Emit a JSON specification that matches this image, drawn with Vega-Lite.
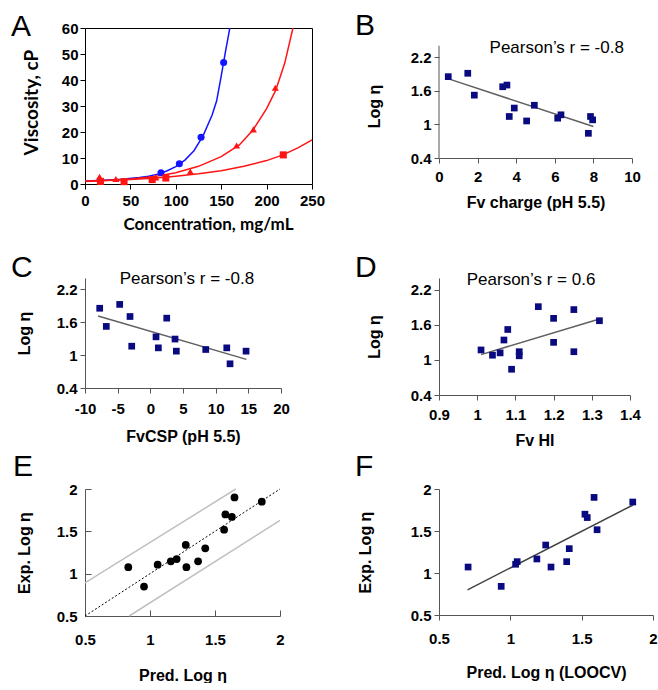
{
  "$schema": "https://vega.github.io/schema/vega-lite/v6.json",
  "padding": {"left": 10, "top": 11, "right": 0, "bottom": 0},
  "background": "white",
  "config": {
    "view": {"stroke": null},
    "axis": {
      "grid": false,
      "labelFont": "Liberation Sans",
      "labelFontWeight": "bold",
      "labelFontSize": 15,
      "labelColor": "black",
      "labelOverlap": false,
      "labelFlush": false,
      "labelBound": false,
      "titleFont": "Liberation Sans",
      "titleFontWeight": "bold",
      "titleFontSize": 16,
      "titleColor": "black",
      "domainColor": "#555555",
      "tickColor": "#555555",
      "tickSize": 5,
      "labelPadding": 3
    },
    "title": {
      "anchor": "start",
      "frame": "group",
      "font": "Liberation Sans",
      "fontSize": 30,
      "fontWeight": "normal",
      "color": "black"
    }
  },
  "datasets": {
    "curves": [
      {"series": "Blue", "x": 0, "y": 1.2}, {"series": "Blue", "x": 20, "y": 1.4}, {"series": "Blue", "x": 40, "y": 1.8},
      {"series": "Blue", "x": 60, "y": 2.5}, {"series": "Blue", "x": 70, "y": 3.0}, {"series": "Blue", "x": 80, "y": 3.8},
      {"series": "Blue", "x": 90, "y": 5.0}, {"series": "Blue", "x": 100, "y": 6.7}, {"series": "Blue", "x": 110, "y": 9.2},
      {"series": "Blue", "x": 120, "y": 12.8}, {"series": "Blue", "x": 130, "y": 18.5}, {"series": "Blue", "x": 140, "y": 26.5},
      {"series": "Blue", "x": 145, "y": 32}, {"series": "Blue", "x": 150, "y": 41.5}, {"series": "Blue", "x": 155, "y": 51.5},
      {"series": "Blue", "x": 159.5, "y": 60},
      {"series": "RedTri", "x": 0, "y": 1.1}, {"series": "RedTri", "x": 25, "y": 1.4}, {"series": "RedTri", "x": 50, "y": 1.9},
      {"series": "RedTri", "x": 75, "y": 2.8}, {"series": "RedTri", "x": 100, "y": 4.3}, {"series": "RedTri", "x": 125, "y": 6.8},
      {"series": "RedTri", "x": 150, "y": 10.5}, {"series": "RedTri", "x": 170, "y": 15}, {"series": "RedTri", "x": 185, "y": 20.8},
      {"series": "RedTri", "x": 200, "y": 29}, {"series": "RedTri", "x": 210, "y": 36}, {"series": "RedTri", "x": 220, "y": 46.5},
      {"series": "RedTri", "x": 229, "y": 60},
      {"series": "RedSq", "x": 0, "y": 1.0}, {"series": "RedSq", "x": 25, "y": 1.3}, {"series": "RedSq", "x": 50, "y": 1.7},
      {"series": "RedSq", "x": 75, "y": 2.2}, {"series": "RedSq", "x": 100, "y": 3.0}, {"series": "RedSq", "x": 125, "y": 3.9},
      {"series": "RedSq", "x": 150, "y": 5.1}, {"series": "RedSq", "x": 175, "y": 6.8}, {"series": "RedSq", "x": 200, "y": 9.0},
      {"series": "RedSq", "x": 218, "y": 11.2}, {"series": "RedSq", "x": 235, "y": 14}, {"series": "RedSq", "x": 250, "y": 17}
    ],
    "pointsA": [
      {"series": "Blue", "x": 83.7, "y": 4.3}, {"series": "Blue", "x": 103.9, "y": 7.8},
      {"series": "Blue", "x": 127.8, "y": 18}, {"series": "Blue", "x": 152.7, "y": 46.7},
      {"series": "RedTri", "x": 16, "y": 2.8}, {"series": "RedTri", "x": 34, "y": 1.9}, {"series": "RedTri", "x": 78, "y": 2.5},
      {"series": "RedTri", "x": 116, "y": 4.8}, {"series": "RedTri", "x": 167, "y": 14.8}, {"series": "RedTri", "x": 185.4, "y": 21},
      {"series": "RedTri", "x": 209.6, "y": 37},
      {"series": "RedSq", "x": 17, "y": 1.0}, {"series": "RedSq", "x": 43, "y": 0.9}, {"series": "RedSq", "x": 74, "y": 1.7},
      {"series": "RedSq", "x": 89, "y": 2.3}, {"series": "RedSq", "x": 218.4, "y": 11.2}
    ],
    "B": [
      {"x": 0.48, "y": 1.85}, {"x": 1.49, "y": 1.91}, {"x": 1.83, "y": 1.52}, {"x": 3.30, "y": 1.67},
      {"x": 3.52, "y": 1.70}, {"x": 3.64, "y": 1.14}, {"x": 3.90, "y": 1.29}, {"x": 4.54, "y": 1.06},
      {"x": 4.94, "y": 1.34}, {"x": 6.15, "y": 1.11}, {"x": 6.32, "y": 1.17}, {"x": 7.74, "y": 0.84},
      {"x": 7.85, "y": 1.14}, {"x": 7.96, "y": 1.08}
    ],
    "Bline": [{"x": 0.5, "y": 1.81}, {"x": 8.0, "y": 0.96}],
    "C": [
      {"x": -7.75, "y": 1.85}, {"x": -6.74, "y": 1.52}, {"x": -4.69, "y": 1.92}, {"x": -3.11, "y": 1.70},
      {"x": -2.85, "y": 1.16}, {"x": 0.87, "y": 1.33}, {"x": 1.23, "y": 1.13}, {"x": 2.51, "y": 1.67},
      {"x": 3.78, "y": 1.29}, {"x": 3.98, "y": 1.07}, {"x": 8.48, "y": 1.10}, {"x": 11.7, "y": 1.13},
      {"x": 12.2, "y": 0.84}, {"x": 14.65, "y": 1.07}
    ],
    "Cline": [{"x": -8.0, "y": 1.71}, {"x": 14.7, "y": 0.92}],
    "D": [
      {"x": 1.01, "y": 1.17}, {"x": 1.04, "y": 1.08}, {"x": 1.06, "y": 1.12}, {"x": 1.07, "y": 1.34},
      {"x": 1.08, "y": 1.52}, {"x": 1.09, "y": 0.84}, {"x": 1.11, "y": 1.14}, {"x": 1.11, "y": 1.07},
      {"x": 1.16, "y": 1.91}, {"x": 1.20, "y": 1.71}, {"x": 1.20, "y": 1.30}, {"x": 1.253, "y": 1.86},
      {"x": 1.253, "y": 1.14}, {"x": 1.32, "y": 1.67}
    ],
    "Dline": [{"x": 1.01, "y": 1.09}, {"x": 1.32, "y": 1.70}],
    "E": [
      {"x": 0.833, "y": 1.076}, {"x": 0.954, "y": 0.847}, {"x": 1.059, "y": 1.106}, {"x": 1.16, "y": 1.146},
      {"x": 1.205, "y": 1.173}, {"x": 1.275, "y": 1.34}, {"x": 1.28, "y": 1.076}, {"x": 1.37, "y": 1.146},
      {"x": 1.425, "y": 1.30}, {"x": 1.57, "y": 1.52}, {"x": 1.58, "y": 1.70}, {"x": 1.63, "y": 1.67},
      {"x": 1.65, "y": 1.90}, {"x": 1.86, "y": 1.85}
    ],
    "Elines": [
      {"line": "upper", "x": 0.5, "y": 0.89}, {"line": "upper", "x": 1.66, "y": 2.0},
      {"line": "lower", "x": 0.84, "y": 0.5}, {"line": "lower", "x": 2.0, "y": 1.63}
    ],
    "Ediag": [{"x": 0.5, "y": 0.5}, {"x": 2.0, "y": 2.0}],
    "F": [
      {"x": 0.704, "y": 1.071}, {"x": 0.936, "y": 0.841}, {"x": 1.037, "y": 1.104}, {"x": 1.048, "y": 1.135},
      {"x": 1.186, "y": 1.167}, {"x": 1.248, "y": 1.333}, {"x": 1.285, "y": 1.071}, {"x": 1.395, "y": 1.135},
      {"x": 1.413, "y": 1.29}, {"x": 1.523, "y": 1.70}, {"x": 1.539, "y": 1.66}, {"x": 1.587, "y": 1.90},
      {"x": 1.608, "y": 1.515}, {"x": 1.858, "y": 1.845}
    ],
    "Fline": [{"x": 0.70, "y": 0.80}, {"x": 1.86, "y": 1.81}]
  },
  "columns": 2,
  "bounds": "flush",
  "spacing": {"row": 94, "column": 127},
  "concat": [
    {
      "title": {"text": "A", "dx": -74, "offset": -21},
      "width": 227,
      "height": 156,
      "view": {"stroke": "black", "strokeWidth": 1},
      "encoding": {
        "x": {"field": "x", "type": "quantitative", "scale": {"domain": [0, 250], "nice": false},
              "axis": {"values": [0, 50, 100, 150, 200, 250], "labelOverlap": false, "title": "Concentration, mg/mL", "titleFont": "Lato", "titleFontSize": 17, "titleX": 123, "labelPadding": 4, "titlePadding": 8, "domain": false, "tickColor": "black"}},
        "y": {"field": "y", "type": "quantitative", "scale": {"domain": [0, 60], "nice": false},
              "axis": {"values": [0, 10, 20, 30, 40, 50, 60], "labelOverlap": false, "title": "Viscosity, cP", "titleFont": "Lato", "titleFontSize": 19, "titleY": 74, "labelPadding": 2, "titlePadding": 20, "domain": false, "tickColor": "black"}},
        "color": {"field": "series", "type": "nominal", "scale": {"domain": ["Blue", "RedTri", "RedSq"], "range": ["#1414ff", "#ff1414", "#ff1414"]}, "legend": null}
      },
      "layer": [
        {
          "data": {"name": "curves"},
          "mark": {"type": "line", "strokeWidth": 1.5, "clip": true},
          "encoding": {"detail": {"field": "series"}}
        },
        {
          "data": {"name": "pointsA"},
          "mark": {"type": "point", "filled": true, "opacity": 1, "size": 50},
          "encoding": {
            "shape": {"field": "series", "type": "nominal", "scale": {"domain": ["Blue", "RedTri", "RedSq"], "range": ["circle", "triangle-up", "square"]}, "legend": null}
          }
        }
      ]
    },
    {
      "title": {"text": "B", "dx": -84, "offset": -13},
      "width": 193,
      "height": 130,
      "encoding": {
        "x": {"field": "x", "type": "quantitative", "scale": {"domain": [0, 10], "nice": false},
              "axis": {"values": [0, 2, 4, 6, 8, 10], "labelOverlap": false, "title": "Fv charge (pH 5.5)", "labelPadding": 6, "titlePadding": 10}},
        "y": {"field": "y", "type": "quantitative", "scale": {"domain": [0.4, 2.717], "nice": false, "zero": false},
              "axis": {"values": [0.4, 1, 1.6, 2.2], "format": "~g", "labelOverlap": false, "domain": false, "title": "Log η", "labelPadding": 3, "titlePadding": 28, "titleY": 78}}
      },
      "layer": [
        {
          "data": {"name": "Bline"},
          "mark": {"type": "line", "color": "#606060", "strokeWidth": 1.5}
        },
        {
          "data": {"values": [{"x": 0, "y": 0.4, "y2": 2.4}]},
          "mark": {"type": "rule", "color": "#555555", "strokeWidth": 1},
          "encoding": {"y2": {"field": "y2"}}
        },
        {
          "data": {"name": "B"},
          "mark": {"type": "square", "color": "#0a0a80", "opacity": 1, "size": 45}
        },
        {
          "data": {"values": [{"x": 6.1, "y": 2.36, "label": "Pearson’s r = -0.8"}]},
          "mark": {"type": "text", "font": "Liberation Sans", "fontSize": 17, "color": "black", "baseline": "middle"},
          "encoding": {"text": {"field": "label"}}
        }
      ]
    },
    {
      "title": {"text": "C", "dx": -74, "offset": -13},
      "width": 196,
      "height": 110,
      "encoding": {
        "x": {"field": "x", "type": "quantitative", "scale": {"domain": [-10, 20], "nice": false},
              "axis": {"values": [-10, -5, 0, 5, 10, 15, 20], "labelExpr": "'' + datum.value", "labelOverlap": false, "title": "FvCSP (pH 5.5)", "labelPadding": 8, "titlePadding": 12}},
        "y": {"field": "y", "type": "quantitative", "scale": {"domain": [0.4, 2.4], "nice": false, "zero": false},
              "axis": {"values": [0.4, 1, 1.6, 2.2], "format": "~g", "labelOverlap": false, "title": "Log η", "labelPadding": 3, "titlePadding": 24}}
      },
      "layer": [
        {
          "data": {"name": "Cline"},
          "mark": {"type": "line", "color": "#606060", "strokeWidth": 1.5}
        },
        {
          "data": {"name": "C"},
          "mark": {"type": "square", "color": "#0a0a80", "opacity": 1, "size": 45}
        },
        {
          "data": {"values": [{"x": 5.6, "y": 2.38, "label": "Pearson’s r = -0.8"}]},
          "mark": {"type": "text", "font": "Liberation Sans", "fontSize": 17, "color": "black", "baseline": "middle"},
          "encoding": {"text": {"field": "label"}}
        }
      ]
    },
    {
      "title": {"text": "D", "dx": -84, "offset": -12},
      "width": 191,
      "height": 117,
      "encoding": {
        "x": {"field": "x", "type": "quantitative", "scale": {"domain": [0.9, 1.4], "nice": false, "zero": false},
              "axis": {"values": [0.9, 1, 1.1, 1.2, 1.3, 1.4], "format": "~g", "labelOverlap": false, "title": "Fv HI", "labelPadding": 7, "titlePadding": 10}},
        "y": {"field": "y", "type": "quantitative", "scale": {"domain": [0.4, 2.4], "nice": false, "zero": false},
              "axis": {"values": [0.4, 1, 1.6, 2.2], "format": "~g", "labelOverlap": false, "title": "Log η", "labelPadding": 3, "titlePadding": 28}}
      },
      "layer": [
        {
          "data": {"name": "Dline"},
          "mark": {"type": "line", "color": "#606060", "strokeWidth": 1.5}
        },
        {
          "data": {"name": "D"},
          "mark": {"type": "square", "color": "#0a0a80", "opacity": 1, "size": 45}
        },
        {
          "data": {"values": [{"x": 1.141, "y": 2.36, "label": "Pearson’s r = 0.6"}]},
          "mark": {"type": "text", "font": "Liberation Sans", "fontSize": 17, "color": "black", "baseline": "middle"},
          "encoding": {"text": {"field": "label"}}
        }
      ]
    },
    {
      "title": {"text": "E", "dx": -72, "offset": 0},
      "width": 195,
      "height": 127,
      "encoding": {
        "x": {"field": "x", "type": "quantitative", "scale": {"domain": [0.5, 2], "nice": false, "zero": false},
              "axis": {"values": [0.5, 1, 1.5, 2], "format": "~g", "labelOverlap": false, "title": "Pred. Log η", "tickSize": -6, "labelPadding": 22, "titlePadding": 20}},
        "y": {"field": "y", "type": "quantitative", "scale": {"domain": [0.5, 2], "nice": false, "zero": false},
              "axis": {"values": [0.5, 1, 1.5, 2], "format": "~g", "labelOverlap": false, "title": "Exp. Log η", "tickSize": -6, "labelPadding": 14, "titlePadding": 24}}
      },
      "layer": [
        {
          "data": {"name": "Elines"},
          "mark": {"type": "line", "color": "#c0c0c0", "strokeWidth": 1.5},
          "encoding": {"detail": {"field": "line"}}
        },
        {
          "data": {"name": "Ediag"},
          "mark": {"type": "line", "color": "black", "strokeWidth": 1, "strokeDash": [2, 2]}
        },
        {
          "data": {"name": "E"},
          "mark": {"type": "circle", "color": "black", "opacity": 1, "size": 60}
        }
      ]
    },
    {
      "title": {"text": "F", "dx": -84, "offset": 0},
      "width": 214,
      "height": 126,
      "encoding": {
        "x": {"field": "x", "type": "quantitative", "scale": {"domain": [0.5, 2], "nice": false, "zero": false},
              "axis": {"values": [0.5, 1, 1.5, 2], "format": "~g", "labelOverlap": false, "title": "Pred. Log η (LOOCV)", "labelPadding": 11, "titlePadding": 18}},
        "y": {"field": "y", "type": "quantitative", "scale": {"domain": [0.5, 2], "nice": false, "zero": false},
              "axis": {"values": [0.5, 1, 1.5, 2], "format": "~g", "labelOverlap": false, "title": "Exp. Log η", "labelPadding": 3, "titlePadding": 37}}
      },
      "layer": [
        {
          "data": {"name": "Fline"},
          "mark": {"type": "line", "color": "#404040", "strokeWidth": 1.5}
        },
        {
          "data": {"name": "F"},
          "mark": {"type": "square", "color": "#0a0a80", "opacity": 1, "size": 45}
        }
      ]
    }
  ]
}
